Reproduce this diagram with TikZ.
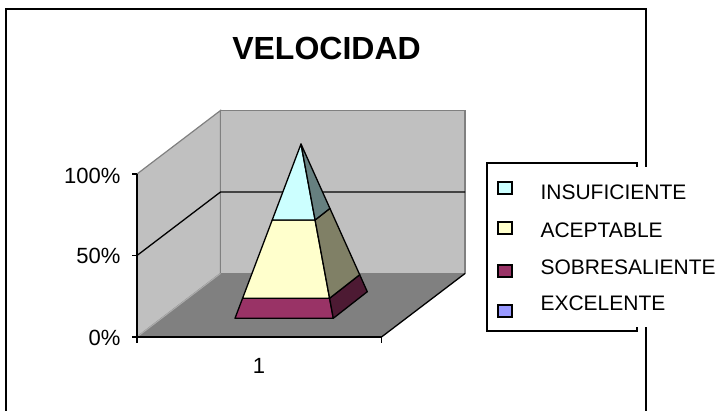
\documentclass[tikz,border=0pt]{standalone}
\usepackage{fontspec}
\setmainfont{Liberation Sans}
\usetikzlibrary{calc}
\definecolor{wallgray}{HTML}{C0C0C0}
\definecolor{floorgray}{HTML}{808080}
\definecolor{insufront}{HTML}{CCFFFF}
\definecolor{insuside}{HTML}{668080}
\definecolor{acepfront}{HTML}{FFFFCC}
\definecolor{acepside}{HTML}{808066}
\definecolor{sobrefront}{HTML}{993366}
\definecolor{sobreside}{HTML}{4D1A33}
\definecolor{excecolor}{HTML}{9999FF}
\tikzset{
  wall/.style={fill=wallgray, draw=floorgray, line width=1.2pt},
  face/.style={draw=black, line width=1.3pt, line join=round},
  marker/.style={draw=black, line width=1.3pt},
  axislabel/.style={anchor=east, font=\fontsize{22}{26}\selectfont},
  legendlabel/.style={anchor=west, font=\fontsize{21}{25}\selectfont}
}
\begin{document}
\begin{tikzpicture}[x=1pt, y=-1pt]
    \useasboundingbox (0,0) rectangle (720,411);
    \clip (0,0) rectangle (720,411);
    % Outer frame
    \draw[line width=1.8pt] (6,420) -- (6,9) -- (646,9) -- (646,420);
    % Title
    \node[font=\bfseries\fontsize{32}{36}\selectfont] (title) at (326.5,48) {VELOCIDAD};
    % Walls and floor
    \draw[wall] (137,337) -- (137,174) -- (220.5,110.5) -- (220.5,273.5) -- cycle;
    \draw[wall] (220.5,110.5) rectangle (465,273.5);
    \fill[floorgray] (137,337) -- (381.5,337) -- (465,273.5) -- (220.5,273.5) -- cycle;
    \draw[wallgray!70!gray, line width=1pt] (137,337) -- (220.5,273.5);
    \draw[black, line width=1.3pt] (381.5,337) -- (465,273.5);
    % 50% gridline
    \draw[line width=1.3pt] (137,255.5) -- (220.5,192) -- (465,192);
    % Axes and ticks
    \draw[line width=1.3pt] (137,174) -- (137,337) -- (381.5,337);
    \foreach \y in {174,255.5,337}
        \draw[line width=1.3pt] (132,\y) -- (137,\y);
    \foreach \x in {137,381.5}
        \draw[line width=1.3pt] (\x,337) -- (\x,343);
    \node[axislabel] (l100) at (124,175.5) {100\%};
    \node[axislabel] (l50) at (124,256) {50\%};
    \node[axislabel] (l0) at (124,337.5) {0\%};
    \node[font=\fontsize{22}{26}\selectfont] (cat) at (259,366) {1};
    % Pyramid
    \coordinate (apex) at (301,144);
    \coordinate (fl) at (235,318.3);
    \coordinate (fr) at (333.3,318.3);
    \coordinate (br) at (367.3,291.7);
    \coordinate (fl1) at ($(fl)!0.115!(apex)$);
    \coordinate (fr1) at ($(fr)!0.115!(apex)$);
    \coordinate (br1) at ($(br)!0.115!(apex)$);
    \coordinate (fl2) at ($(fl)!0.564!(apex)$);
    \coordinate (fr2) at ($(fr)!0.564!(apex)$);
    \coordinate (br2) at ($(br)!0.564!(apex)$);
    % SOBRESALIENTE band
    \filldraw[face, fill=sobrefront] (fl) -- (fr) -- (fr1) -- (fl1) -- cycle;
    \filldraw[face, fill=sobreside] (fr) -- (br) -- (br1) -- (fr1) -- cycle;
    % ACEPTABLE band
    \filldraw[face, fill=acepfront] (fl1) -- (fr1) -- (fr2) -- (fl2) -- cycle;
    \filldraw[face, fill=acepside] (fr1) -- (br1) -- (br2) -- (fr2) -- cycle;
    % INSUFICIENTE band
    \filldraw[face, fill=insufront] (fl2) -- (fr2) -- (apex) -- cycle;
    \filldraw[face, fill=insuside] (fr2) -- (br2) -- (apex) -- cycle;
    % Legend
    \draw[line width=1.5pt] (487,163) rectangle (637,331);
    \fill[white] (525,167) rectangle (720,327);
    \draw[marker, fill=insufront] (498,182) rectangle (512,194);
    \draw[marker, fill=acepfront] (498,222) rectangle (512,234);
    \draw[marker, fill=sobrefront] (498,265) rectangle (512,277);
    \draw[marker, fill=excecolor] (498,305) rectangle (512,317);
    \node[legendlabel] (insu) at (537,192) {INSUFICIENTE};
    \node[legendlabel] (acep) at (537,230) {ACEPTABLE};
    \node[legendlabel] (sobre) at (537,267) {SOBRESALIENTE};
    \node[legendlabel] (exce) at (537,303) {EXCELENTE};
\end{tikzpicture}
\end{document}
